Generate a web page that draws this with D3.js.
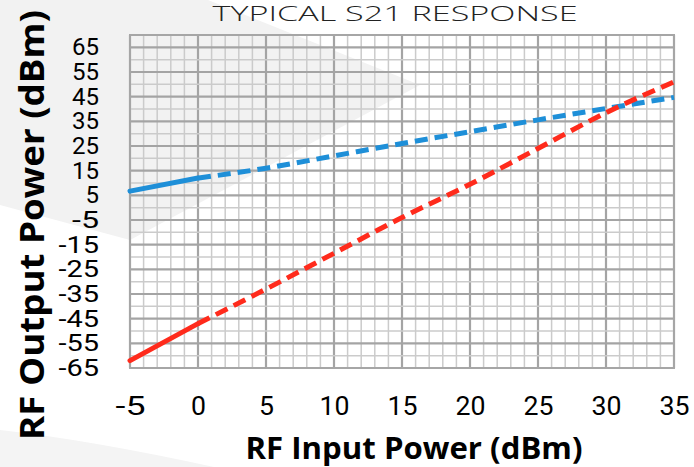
<!DOCTYPE html>
<html><head><meta charset="utf-8">
<script src="https://cdn.jsdelivr.net/npm/d3@7"></script>
<style>body{margin:0;background:#fff}svg{display:block}</style>
</head><body>
<svg id="c" width="694" height="467"></svg>
<script>
const inputPower = [-5, 0, 5, 10, 15, 20, 25, 30, 35];
const blueOutput = [6.7, 12, 16, 21, 26, 30.8, 35.6, 40.2, 44.7];
const redOutput = [-62, -47, -33, -18.5, -4, 9.5, 24, 38.5, 51];
const xTicks = [-5, 0, 5, 10, 15, 20, 25, 30, 35];
const yTicks = [-65, -55, -45, -35, -25, -15, -5, 5, 15, 25, 35, 45, 55, 65];
const titleText = "TYPICAL S21 RESPONSE";
const xTitle = "RF Input Power (dBm)";
const yTitle = "RF Output Power (dBm)";

const svg = d3.select("#c");
const x = d3.scaleLinear().domain([-5, 35]).range([130, 674]);
const y = d3.scaleLinear().domain([-65, 70]).range([368, 35]);

// background shapes
svg.append("rect").attr("width", 694).attr("height", 467).attr("fill", "#ffffff");
svg.append("path").attr("fill", "#f2f2f2")
  .attr("d", "M0,0 L208,0 L420,85 L130,240 L0,205 Z");
svg.append("path").attr("fill", "#f4f4f4")
  .attr("d", "M0,430 Q90,440 214,467 L0,467 Z");

// grid
const g = svg.append("g");
const minorX = d3.range(-5, 35.01, 1);
const minorY = d3.range(-65, 70.01, 5);
g.selectAll(".vx").data(minorX).join("line")
  .attr("x1", d => x(d)).attr("x2", d => x(d)).attr("y1", y(70)).attr("y2", y(-65))
  .attr("stroke", d => (d % 5 === 0) ? "#a4a4a4" : "#cbcbcb")
  .attr("stroke-width", d => (d % 5 === 0) ? 2.2 : 1.5);
g.selectAll(".hy").data(minorY).join("line")
  .attr("y1", d => y(d)).attr("y2", d => y(d)).attr("x1", x(-5)).attr("x2", x(35))
  .attr("stroke", d => (yTicks.includes(d)) ? "#a4a4a4" : "#cbcbcb")
  .attr("stroke-width", d => (yTicks.includes(d)) ? 2.2 : 1.5);
g.append("rect").attr("x", x(-5)).attr("y", y(70)).attr("width", x(35) - x(-5)).attr("height", y(-65) - y(70))
  .attr("fill", "none").attr("stroke", "#a6a6a6").attr("stroke-width", 2);

// axes
const tickFont = "'Liberation Sans Narrow', 'Roboto', sans-serif";
const ya = svg.append("g").attr("transform", `translate(${x(-5)},0)`)
  .call(d3.axisLeft(y).tickValues(yTicks).tickSize(0).tickPadding(31).tickFormat(d => String(d)));
ya.select(".domain").remove();
ya.selectAll("text").attr("font-family", tickFont).attr("font-size", 23).attr("fill", "#000")
  .attr("textLength", d => String(d).length * 13.5).attr("lengthAdjust", "spacingAndGlyphs");

const xa = svg.append("g").attr("transform", `translate(0,${y(-65)})`)
  .call(d3.axisBottom(x).tickValues(xTicks).tickSize(0).tickPadding(29).tickFormat(d => String(d)));
xa.select(".domain").remove();
xa.selectAll("text").attr("font-family", tickFont).attr("font-size", 26).attr("fill", "#000")
  .attr("textLength", d => String(d).length * 15).attr("lengthAdjust", "spacingAndGlyphs");

// series
const pts = (ys) => inputPower.map((v, i) => [v, ys[i]]);
const line = d3.line().x(d => x(d[0])).y(d => y(d[1])).curve(d3.curveMonotoneX);
function drawSeries(ys, color) {
  const p = pts(ys);
  svg.append("path").datum(p.filter(d => d[0] <= 0)).attr("d", line)
    .attr("fill", "none").attr("stroke", color).attr("stroke-width", 5).attr("stroke-linecap", "round");
  svg.append("path").datum(p.filter(d => d[0] >= 0)).attr("d", line)
    .attr("fill", "none").attr("stroke", color).attr("stroke-width", 5)
    .attr("stroke-dasharray", "13,7");
}
drawSeries(blueOutput, "#1e8fd8");
drawSeries(redOutput, "#ff2b1c");

// titles
svg.append("text").attr("x", 395).attr("y", 21).attr("text-anchor", "middle")
  .attr("font-family", "'Open Sans', sans-serif").attr("font-weight", 300).attr("font-size", 20)
  .attr("textLength", 365).attr("lengthAdjust", "spacingAndGlyphs")
  .attr("fill", "#222").text(titleText);
svg.append("text").attr("x", 414).attr("y", 459).attr("text-anchor", "middle")
  .attr("font-family", "'Open Sans', sans-serif").attr("font-weight", 700).attr("font-size", 31)
  .attr("textLength", 337).attr("lengthAdjust", "spacingAndGlyphs")
  .attr("fill", "#000").text(xTitle);
svg.append("text").attr("transform", "translate(44,225) rotate(-90)").attr("text-anchor", "middle")
  .attr("font-family", "'Open Sans', sans-serif").attr("font-weight", 700).attr("font-size", 34)
  .attr("textLength", 430).attr("lengthAdjust", "spacingAndGlyphs")
  .attr("fill", "#000").text(yTitle);
</script>
</body></html>
